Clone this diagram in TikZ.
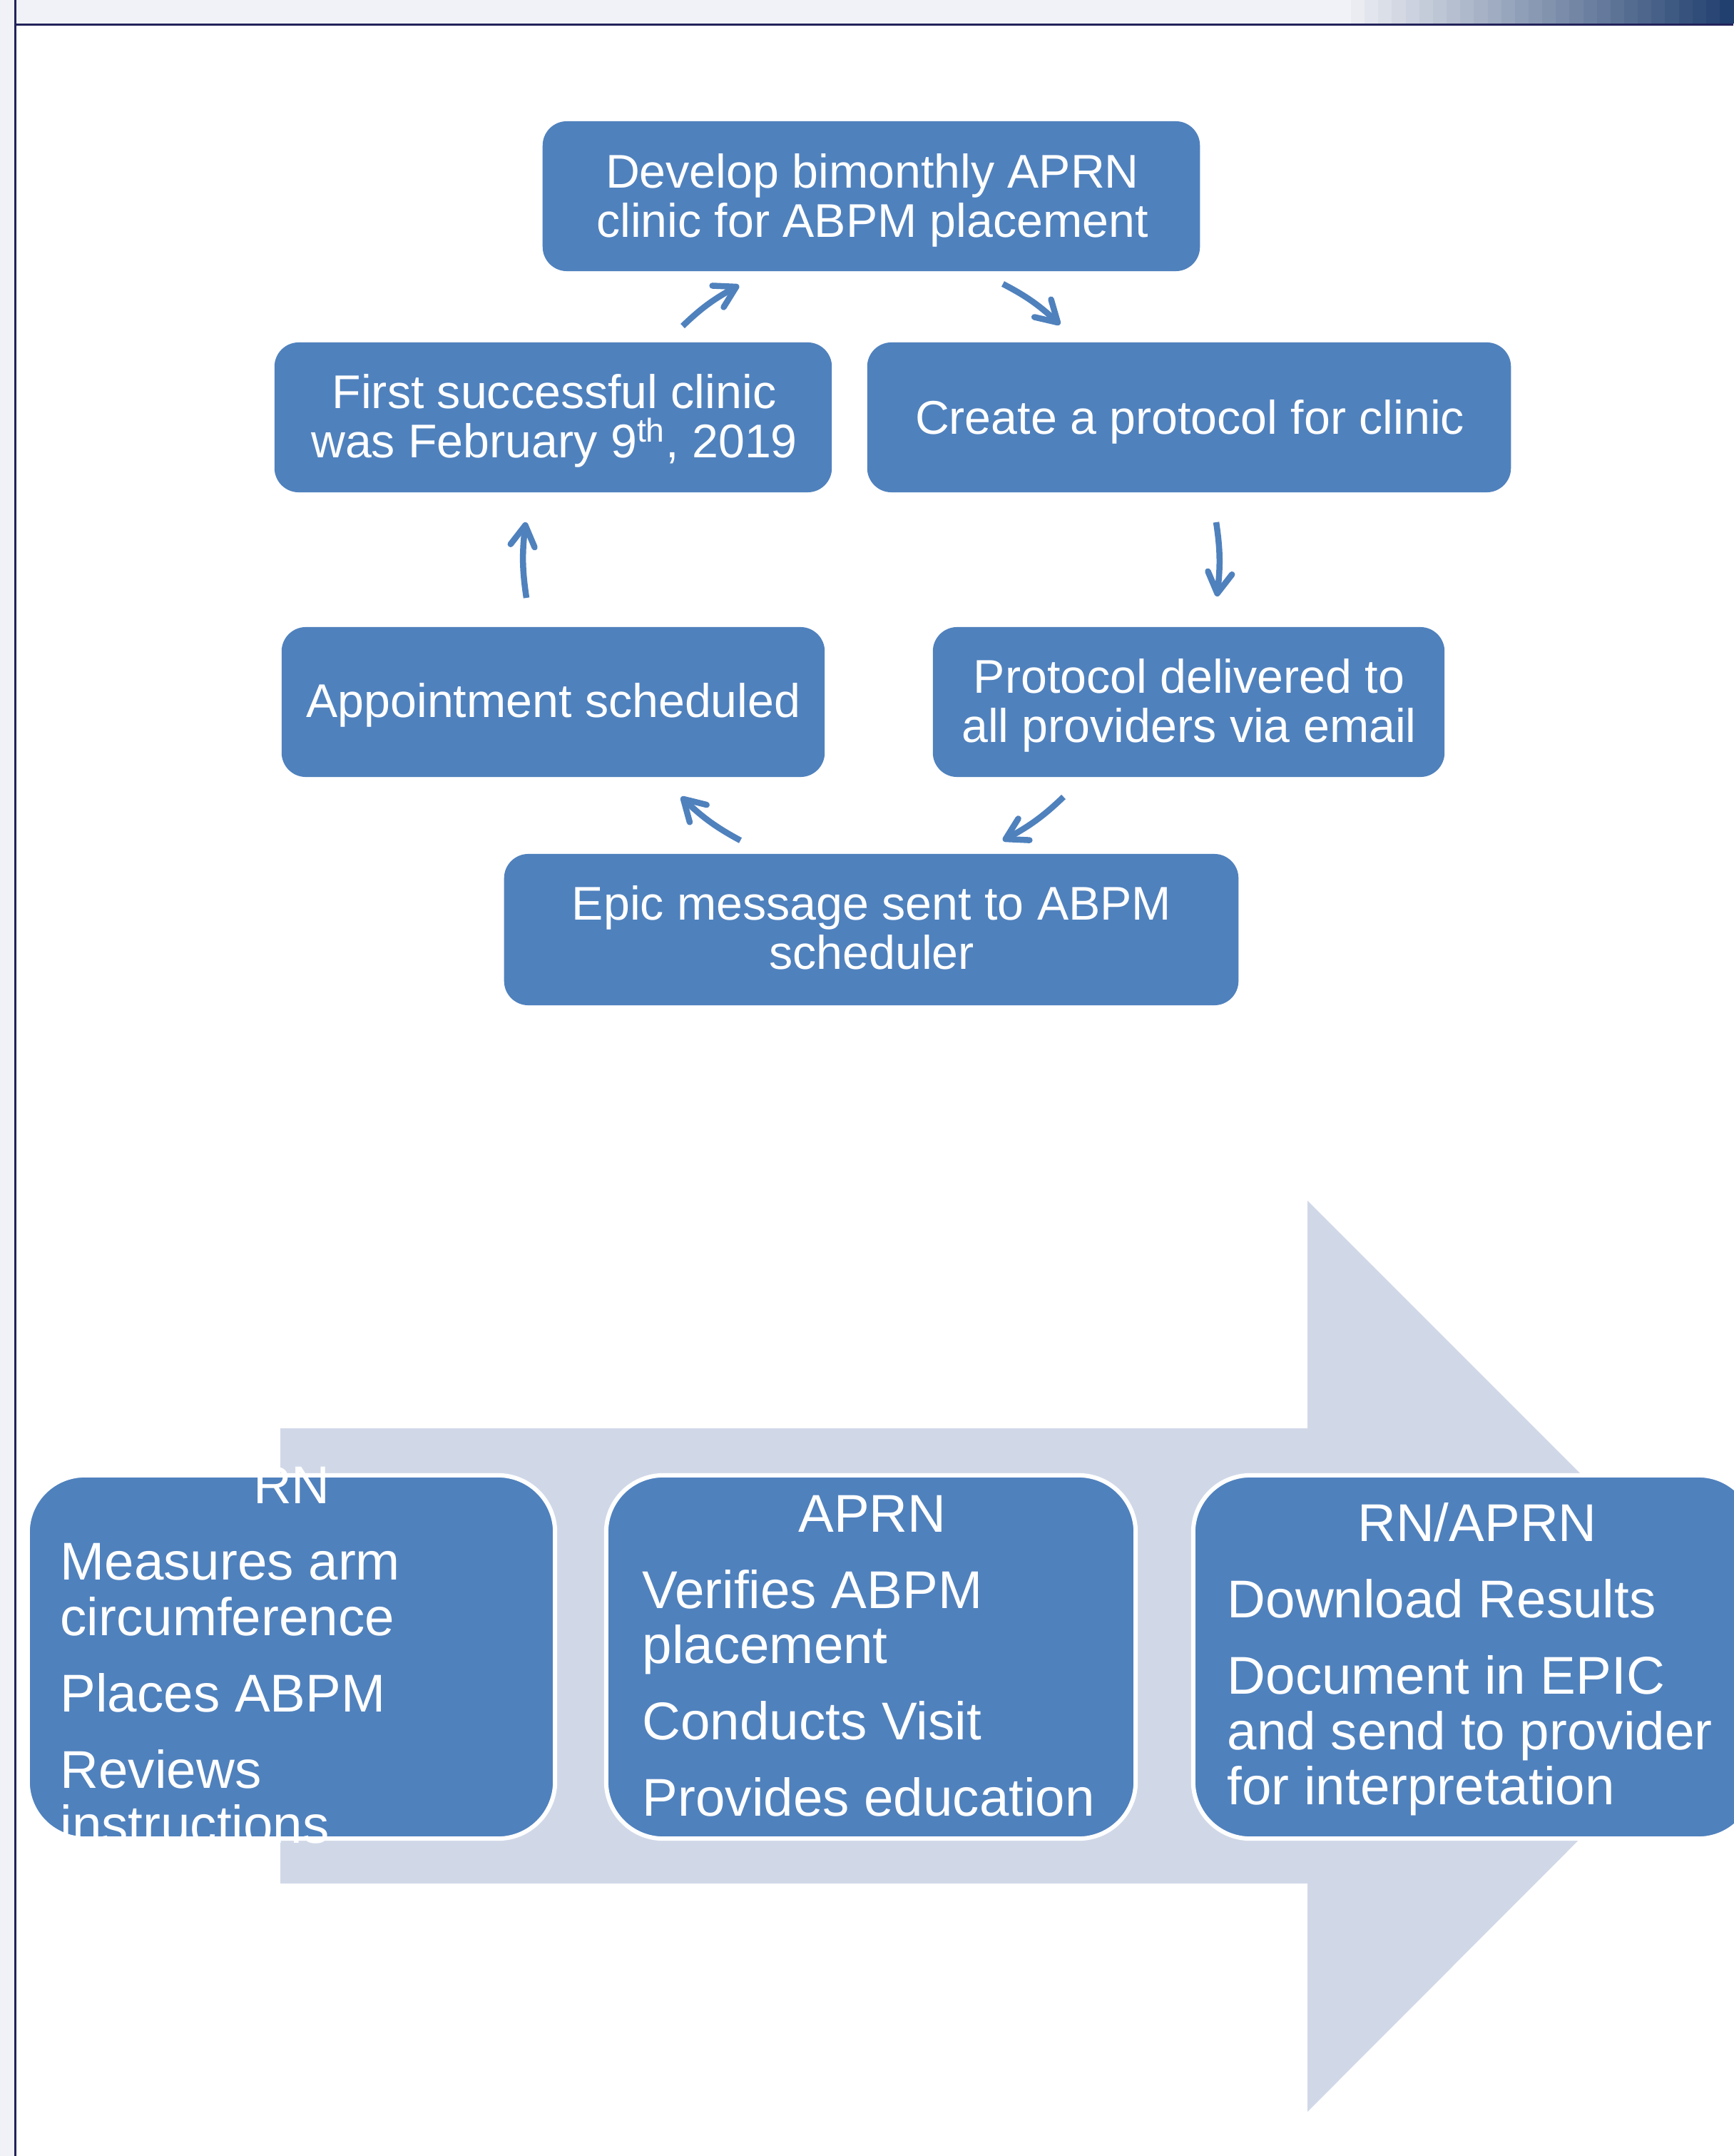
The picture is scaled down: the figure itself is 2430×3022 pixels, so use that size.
\documentclass[tikz,border=0pt]{standalone}
\usepackage{fontspec}
\setmainfont{Liberation Sans}
\usetikzlibrary{arrows.meta,bending}
\definecolor{boxblue}{HTML}{4F81BD}
\definecolor{shaftcol}{HTML}{D0D8E8}
\definecolor{barlight}{HTML}{F1F2F7}
\definecolor{bardark}{HTML}{21406F}
\definecolor{navyline}{HTML}{23235A}
\begin{document}
\begin{tikzpicture}[x=0.01cm,y=-0.01cm,
  cycbox/.style={fill=boxblue, rounded corners=0.34cm, inner sep=0pt, minimum height=2.10cm},
  cyctext/.style={text=white, align=center, inner sep=0pt, font=\fontsize{18.85}{19.6}\selectfont},
  lane/.style={fill=boxblue, draw=white, line width=0.06cm, rounded corners=0.8cm,
               minimum height=5.09cm, inner sep=0pt},
  btxt/.style={text=white, inner sep=0pt, font=\fontsize{21.2}{21.9}\selectfont},
  cyarrow/.style={draw=boxblue, line width=0.085cm,
                  -{Straight Barb[length=0.29cm,width=0.34cm,round]}, bend left=8}]
\useasboundingbox (0,0) rectangle (2430,3022);
\fill[white] (0,0) rectangle (2430,3022);
% top bar with stepped gradient
\fill[barlight] (0,0) rectangle (2430,33);
\foreach \i in {0,...,27}{
  \pgfmathsetmacro\pct{100*(\i+1)/28}
  \fill[bardark!\pct!barlight] ({1894+\i*19.15},0) rectangle ({1894+(\i+1)*19.15+0.6},33);
}
\fill[navyline] (21,33) rectangle (2430,36.5);
\fill[barlight] (0,0) rectangle (21,3022);
\draw[navyline, line width=0.02cm] (21.5,0) -- (21.5,3022);

% ---------- cycle ----------
\node[cycbox, minimum width=9.21cm] (b1) at (1221.5,275) {};
\node[cycbox, minimum width=9.02cm] (b2) at (1667,585) {};
\node[cycbox, minimum width=7.17cm] (b3) at (1666.5,984) {};
\node[cycbox, minimum width=10.29cm, minimum height=2.12cm] (b4) at (1221.5,1303) {};
\node[cycbox, minimum width=7.61cm] (b5) at (775.5,984) {};
\node[cycbox, minimum width=7.81cm] (b6) at (775.5,585) {};
\node[cyctext] (b1t) at (1223,281) {Develop bimonthly APRN\\clinic for ABPM placement};
\node[cyctext] (b2t) at (1668,591) {Create a protocol for clinic};
\node[cyctext] (b3t) at (1667,989) {Protocol delivered to\\all providers via email};
\node[cyctext] (b4t) at (1222,1300) {Epic message sent to ABPM\\scheduler};
\node[cyctext] (b5t) at (776,988) {Appointment scheduled};
\node[cyctext] (b6t) at (777,590) {First successful clinic\\was February 9\textsuperscript{th}, 2019};

\coordinate (t12) at (1406,398); \coordinate (h12) at (1486,455);
\coordinate (t23) at (1705,732); \coordinate (h23) at (1706,836);
\coordinate (t34) at (1491,1117); \coordinate (h34) at (1406,1178);
\coordinate (t45) at (1038,1178); \coordinate (h45) at (955,1117);
\coordinate (t56) at (738,838); \coordinate (h56) at (737,732);
\coordinate (t61) at (957,457); \coordinate (h61) at (1036,400);
\draw[cyarrow] (t12) to (h12);
\draw[cyarrow] (t23) to (h23);
\draw[cyarrow] (t34) to (h34);
\draw[cyarrow] (t45) to (h45);
\draw[cyarrow] (t56) to (h56);
\draw[cyarrow] (t61) to (h61);

% ---------- process arrow ----------
\fill[shaftcol] (393,2002) -- (1833,2002) -- (1833,1683) -- (2471,2321) -- (1833,2960)
  -- (1833,2640) -- (393,2640) -- cycle;

\node[lane, minimum width=7.39cm] (l1) at (408.5,2322.5) {};
\node[lane, minimum width=7.42cm] (l2) at (1221,2322.5) {};
\node[lane, minimum width=7.88cm] (l3) at (2067,2322.5) {};

% lane 1 text
\node[btxt, anchor=base] (l1h) at (409,2107) {RN};
\node[btxt, anchor=base west] (l1a) at (84,2214.5) {Measures arm};
\node[btxt, anchor=base west] (l1b) at (84,2292) {circumference};
\node[btxt, anchor=base west] (l1c) at (84,2399) {Places ABPM};
\node[btxt, anchor=base west] (l1d) at (84,2506) {Reviews};
\node[btxt, anchor=base west] (l1e) at (84,2583) {instructions};
% lane 2 text
\node[btxt, anchor=base] (l2h) at (1223,2147) {APRN};
\node[btxt, anchor=base west] (l2a) at (900,2254) {Verifies ABPM};
\node[btxt, anchor=base west] (l2b) at (900,2331) {placement};
\node[btxt, anchor=base west] (l2c) at (900,2438) {Conducts Visit};
\node[btxt, anchor=base west] (l2d) at (900,2545) {Provides education};
% lane 3 text
\node[btxt, anchor=base] (l3h) at (2071,2160) {RN/APRN};
\node[btxt, anchor=base west] (l3a) at (1720,2267) {Download Results};
\node[btxt, anchor=base west] (l3b) at (1720,2374) {Document in EPIC};
\node[btxt, anchor=base west] (l3c) at (1720,2452) {and send to provider};
\node[btxt, anchor=base west] (l3d) at (1720,2529) {for interpretation};
\end{tikzpicture}
\end{document}
